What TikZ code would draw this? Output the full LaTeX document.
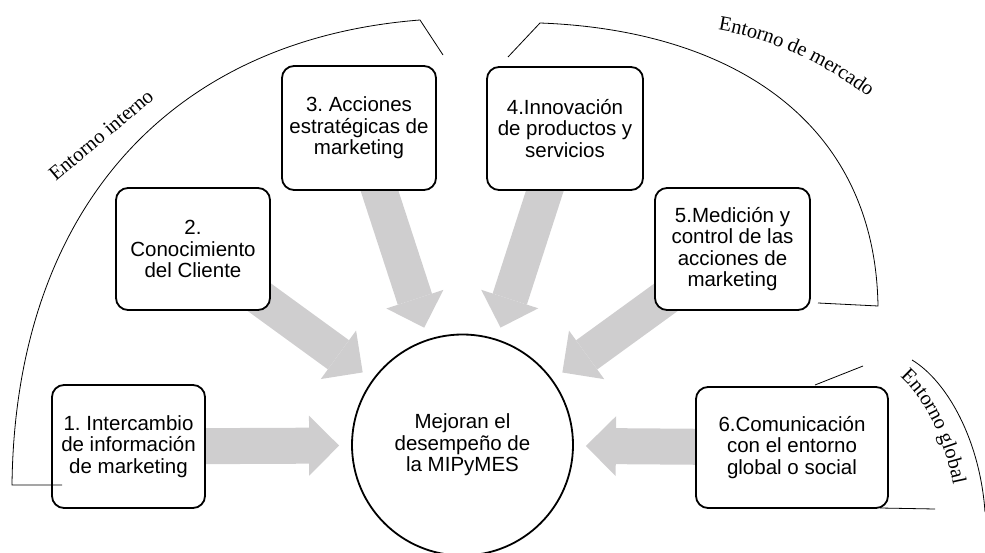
\documentclass[tikz,border=0pt]{standalone}
\usepackage{fontspec}
\setmainfont{Liberation Sans}
\newfontfamily\serifface{Liberation Serif}
\usetikzlibrary{arrows.meta,decorations.text}
\pgfdeclarelayer{bg}
\pgfsetlayers{bg,main}
\definecolor{arrowgray}{RGB}{207,206,207}
\frenchspacing
\begin{document}
\begin{tikzpicture}[x=1pt,y=-1pt,
  box/.style={draw,line width=1.8pt,rounded corners=12pt,fill=white,align=center,
    inner sep=0pt,font=\fontsize{20.5}{21.5}\selectfont},
  hub/.style={draw,circle,line width=1.8pt,fill=white,align=center,inner sep=0pt,
    minimum size=221pt,font=\fontsize{20.5}{21.5}\selectfont},
  bigarrow/.style={draw=arrowgray,line width=36pt,
    -{Triangle[length=30pt,width=60pt,line width=0pt]},shorten >=12pt},
  env/.style={line width=0.8pt,black},
  envlabel/.style={font=\serifface\fontsize{20.5}{20.5}\selectfont,inner sep=0pt}
]
\useasboundingbox (0,0) rectangle (985,553);

% hub and boxes
\node[hub] (c) at (462.5,445) {Mejoran el\\desempeño de\\la MIPyMES};
\node[box,minimum width=153pt,minimum height=123pt] (b1) at (128.5,446.5)
  {1. Intercambio\\de información\\de marketing};
\node[box,minimum width=154pt,minimum height=122pt] (b2) at (193,249)
  {2.\\Conocimiento\\del Cliente};
\node[box,minimum width=154pt,minimum height=124pt] (b3) at (359,128)
  {3. Acciones\\estratégicas de\\marketing};
\node[box,minimum width=156pt,minimum height=123pt] (b4) at (565,128.5)
  {4.Innovación\\de productos y\\servicios};
\node[box,minimum width=155pt,minimum height=122pt] (b5) at (732.5,249)
  {5.Medición y\\control de las\\acciones de\\marketing};
\node[box,minimum width=192pt,minimum height=121pt] (b6) at (792,447.5)
  {6.Comunicación\\con el entorno\\global o social};

% block arrows behind the boxes
\begin{pgfonlayer}{bg}
  \foreach \b in {b1,b2,b3,b4,b5,b6}
    \draw[bigarrow] (\b.center) -- (c);
\end{pgfonlayer}

% environment brackets
\draw[env] (62,485) -- (12,485) .. controls (15,215) and (165,40) .. (420,20) -- (443,55);
\draw[env] (508,57) -- (540,23) .. controls (730,30) and (875,120) .. (878,306) -- (818,303);
\draw[env] (815,385) -- (863,366);
\draw[env] (880,508) -- (935,509);
\draw[env] (912,360) .. controls (947,381) and (980,440) .. (985,512);

% environment labels
\node[envlabel,rotate=40] (l1) at (101,135) {Entorno interno};
\path[decorate,decoration={text along path,text align=left,
  text={|\serifface\fontsize{20.5}{20.5}\selectfont|Entorno de mercado}}]
  (718,30) .. controls (777,40) and (835,68) .. (890,114);
\path[decorate,decoration={text along path,text align=left,
  text={|\serifface\fontsize{20.5}{20.5}\selectfont|Entorno global}}]
  (900,377) .. controls (923,397) and (950,442) .. (959,520);
\end{tikzpicture}
\end{document}
